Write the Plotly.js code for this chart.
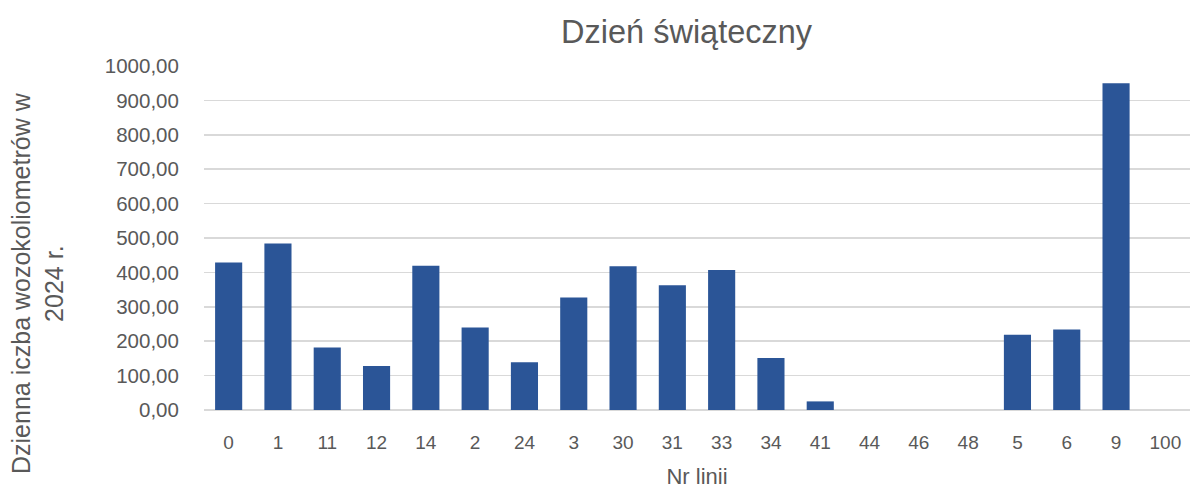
<!DOCTYPE html>
<html><head><meta charset="utf-8">
<script src="https://cdn.plot.ly/plotly-3.0.1.min.js"></script>
<style>html,body{margin:0;padding:0;background:#fff}</style>
</head><body>
<div id="chart" style="width:1192px;height:489px"></div>
<script>
const categories = ["0","1","11","12","14","2","24","3","30","31","33","34","41","44","46","48","5","6","9","100"];
const values = [429,484,182,128,419,240,139,327,418,363,407,151,25,0,0,0,219,234,950,0];
const yTickVals = [0,100,200,300,400,500,600,700,800,900,1000];
const yTickText = yTickVals.map(v => v.toFixed(2).replace('.', ','));

const FONT = "Liberation Sans, Arial, sans-serif";
const GREY = "#595959";

Plotly.newPlot('chart', [{
  type: 'bar',
  x: categories,
  y: values,
  marker: {color: '#2B5597', line: {width: 0}},
  hoverinfo: 'x+y'
}], {
  width: 1192, height: 489,
  margin: {l: 204, r: 2, t: 66, b: 79},
  paper_bgcolor: '#fff', plot_bgcolor: '#fff',
  bargap: 0.45,
  showlegend: false,
  title: {text: 'Dzień świąteczny', font: {family: FONT, size: 32.5, color: GREY}, x: 0.576, xanchor: 'center', y: 0.935, yanchor: 'middle'},
  xaxis: {
    type: 'category',
    tickfont: {family: FONT, size: 19, color: GREY},
    ticks: 'outside', ticklen: 15, tickcolor: 'rgba(0,0,0,0)',
    showline: false, showgrid: false, zeroline: false,
    title: {text: 'Nr linii', font: {family: FONT, size: 22, color: GREY}, standoff: 16}
  },
  yaxis: {
    range: [0, 1000],
    tickvals: yTickVals, ticktext: yTickText,
    tickfont: {family: FONT, size: 20.5, color: GREY},
    ticks: 'outside', ticklen: 20, tickcolor: 'rgba(0,0,0,0)',
    showgrid: true, gridcolor: '#D9D9D9', gridwidth: 1.5,
    zeroline: true, zerolinecolor: '#D9D9D9', zerolinewidth: 1.5,
    showline: false, fixedrange: true
  },
  annotations: [{
    text: 'Dzienna iczba wozokoliometrów w<br>2024 r.',
    xref: 'paper', yref: 'paper',
    x: (37 - 204) / 986, y: (410 - 283) / 344,
    xanchor: 'center', yanchor: 'middle',
    textangle: -90, showarrow: false,
    font: {family: FONT, size: 25, color: GREY}
  }]
}, {displayModeBar: false, staticPlot: true});
</script>
</body></html>
